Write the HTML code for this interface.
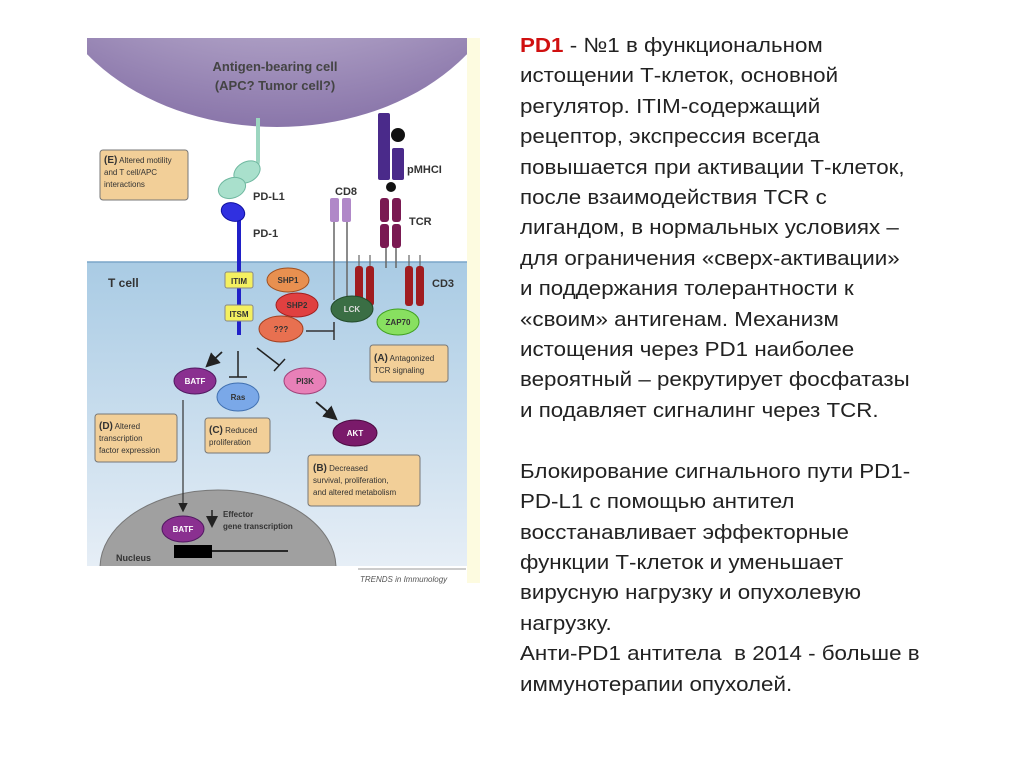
<!DOCTYPE html>
<html><head><meta charset="utf-8"><style>
body{margin:0;width:1024px;height:767px;background:#fff;overflow:hidden;position:relative;font-family:"Liberation Sans",sans-serif}
.t{position:absolute;left:520px;font-size:20.5px;color:#222;white-space:nowrap;line-height:30.4px;transform-origin:0 0;transform:scaleX(1.09)}
</style></head><body>
<svg width="1024" height="767" style="position:absolute;left:0;top:0" font-family="Liberation Sans, sans-serif">
<defs>
<linearGradient id="bl" x1="0" y1="0" x2="0" y2="1"><stop offset="0" stop-color="#a9cbe4"/><stop offset="1" stop-color="#e6eef6"/></linearGradient>
<radialGradient id="ap" cx="0.5" cy="0.2" r="0.8"><stop offset="0" stop-color="#f0ecf6"/><stop offset="1" stop-color="#8a76aa"/></radialGradient>
<marker id="ar" markerWidth="8" markerHeight="8" refX="6" refY="4" orient="auto"><path d="M0,0 L8,4 L0,8 z" fill="#222"/></marker>
</defs>
<rect x="467" y="38" width="13" height="545" fill="#fdfbe0"/>
<rect x="87" y="38" width="380" height="224" fill="#fff"/>
<clipPath id="c"><rect x="87" y="38" width="380" height="528"/></clipPath>
<g clip-path="url(#c)">
<ellipse cx="277" cy="-50" rx="235" ry="177" fill="url(#ap)"/>
<rect x="87" y="262" width="380" height="304" fill="url(#bl)"/>
<line x1="87" y1="262" x2="467" y2="262" stroke="#7aa6c8" stroke-width="1.5"/>
<ellipse cx="218" cy="568" rx="118" ry="78" fill="#a0a0a0" stroke="#777"/>
</g>
<text x="275" y="71" font-size="13" font-weight="bold" fill="#444" text-anchor="middle">Antigen-bearing cell</text>
<text x="275" y="90" font-size="13" font-weight="bold" fill="#444" text-anchor="middle">(APC? Tumor cell?)</text>
<path d="M258,118 L258,160 Q258,170 250,168" stroke="#9cd6c0" stroke-width="4" fill="none"/>
<ellipse cx="247" cy="172" rx="14" ry="10" fill="#a9e0cc" stroke="#6fb8a0" transform="rotate(-30 247 172)"/>
<ellipse cx="232" cy="188" rx="14" ry="10" fill="#a9e0cc" stroke="#6fb8a0" transform="rotate(-20 232 188)"/>
<line x1="239" y1="212" x2="239" y2="335" stroke="#2020c8" stroke-width="4"/>
<ellipse cx="233" cy="212" rx="12" ry="9" fill="#3030e0" stroke="#1010a0" transform="rotate(20 233 212)"/>
<text x="253" y="200" font-size="11" font-weight="bold" fill="#333">PD-L1</text>
<text x="253" y="237" font-size="11" font-weight="bold" fill="#333">PD-1</text>
<rect x="100" y="150" width="88" height="50" rx="3" fill="#f2cf98" stroke="#777"/>
<text x="104" y="163" font-size="8" fill="#333"><tspan font-weight="bold" font-size="10">(E)</tspan> Altered motility</text>
<text x="104" y="175" font-size="8" fill="#333">and T cell/APC</text>
<text x="104" y="187" font-size="8" fill="#333">interactions</text>
<line x1="334" y1="222" x2="334" y2="300" stroke="#666" stroke-width="1.5"/>
<line x1="347" y1="222" x2="347" y2="300" stroke="#666" stroke-width="1.5"/>
<rect x="330" y="198" width="9" height="24" rx="2" fill="#b088c8"/>
<rect x="342" y="198" width="9" height="24" rx="2" fill="#b088c8"/>
<text x="335" y="195" font-size="11" font-weight="bold" fill="#333">CD8</text>
<rect x="378" y="113" width="12" height="67" rx="2" fill="#4a2a8a"/>
<rect x="392" y="148" width="12" height="32" rx="2" fill="#4a2a8a"/>
<circle cx="398" cy="135" r="7" fill="#111"/>
<circle cx="391" cy="187" r="5" fill="#111"/>
<text x="407" y="173" font-size="11" font-weight="bold" fill="#333">pMHCI</text>
<line x1="386" y1="245" x2="386" y2="268" stroke="#666" stroke-width="1.5"/>
<line x1="396" y1="245" x2="396" y2="268" stroke="#666" stroke-width="1.5"/>
<rect x="380" y="198" width="9" height="24" rx="3" fill="#7a1a52"/>
<rect x="392" y="198" width="9" height="24" rx="3" fill="#7a1a52"/>
<rect x="380" y="224" width="9" height="24" rx="3" fill="#7a1a52"/>
<rect x="392" y="224" width="9" height="24" rx="3" fill="#7a1a52"/>
<text x="409" y="225" font-size="11" font-weight="bold" fill="#333">TCR</text>
<g stroke="#666" stroke-width="1.2"><line x1="359" y1="255" x2="359" y2="268"/><line x1="370" y1="255" x2="370" y2="268"/><line x1="409" y1="255" x2="409" y2="268"/><line x1="420" y1="255" x2="420" y2="268"/></g>
<g fill="#a01c20"><rect x="355" y="266" width="8" height="40" rx="3"/><rect x="366" y="266" width="8" height="40" rx="3"/><rect x="405" y="266" width="8" height="40" rx="3"/><rect x="416" y="266" width="8" height="40" rx="3"/></g>
<text x="432" y="287" font-size="11" font-weight="bold" fill="#333">CD3</text>
<text x="108" y="287" font-size="12" font-weight="bold" fill="#333">T cell</text>
<rect x="225" y="272" width="28" height="16" rx="2" fill="#f4f060" stroke="#888"/>
<text x="239" y="284" font-size="8" font-weight="bold" fill="#333" text-anchor="middle">ITIM</text>
<rect x="225" y="305" width="28" height="16" rx="2" fill="#f4f060" stroke="#888"/>
<text x="239" y="317" font-size="8" font-weight="bold" fill="#333" text-anchor="middle">ITSM</text>
<ellipse cx="288" cy="280" rx="21" ry="12" fill="#e89050" stroke="#a05020"/>
<text x="288" y="283" font-size="8" font-weight="bold" fill="#333" text-anchor="middle">SHP1</text>
<ellipse cx="297" cy="305" rx="21" ry="12" fill="#e04040" stroke="#a02020"/>
<text x="297" y="308" font-size="8" font-weight="bold" fill="#333" text-anchor="middle">SHP2</text>
<ellipse cx="281" cy="329" rx="22" ry="13" fill="#e87050" stroke="#a04020"/>
<text x="281" y="332" font-size="8" font-weight="bold" fill="#333" text-anchor="middle">???</text>
<line x1="306" y1="331" x2="334" y2="331" stroke="#333" stroke-width="1.5"/>
<line x1="334" y1="322" x2="334" y2="340" stroke="#333" stroke-width="1.5"/>
<ellipse cx="352" cy="309" rx="21" ry="13" fill="#3a6e44" stroke="#224a2a"/>
<text x="352" y="312" font-size="8" font-weight="bold" fill="#ddd" text-anchor="middle">LCK</text>
<ellipse cx="398" cy="322" rx="21" ry="13" fill="#88e060" stroke="#40a020"/>
<text x="398" y="325" font-size="8" font-weight="bold" fill="#333" text-anchor="middle">ZAP70</text>
<rect x="370" y="345" width="78" height="37" rx="3" fill="#f2cf98" stroke="#777"/>
<text x="374" y="361" font-size="8" fill="#333"><tspan font-weight="bold" font-size="10">(A)</tspan> Antagonized</text>
<text x="374" y="373" font-size="8" fill="#333">TCR signaling</text>
<line x1="222" y1="352" x2="208" y2="365" stroke="#222" stroke-width="1.8" marker-end="url(#ar)"/>
<line x1="238" y1="351" x2="238" y2="377" stroke="#222" stroke-width="1.5"/>
<line x1="229" y1="377" x2="247" y2="377" stroke="#222" stroke-width="1.5"/>
<line x1="257" y1="348" x2="279" y2="365" stroke="#222" stroke-width="1.5"/>
<line x1="274" y1="371" x2="285" y2="359" stroke="#222" stroke-width="1.5"/>
<ellipse cx="195" cy="381" rx="21" ry="13" fill="#8a3090" stroke="#501860"/>
<text x="195" y="384" font-size="8" font-weight="bold" fill="#fff" text-anchor="middle">BATF</text>
<ellipse cx="238" cy="397" rx="21" ry="14" fill="#7aa8e8" stroke="#4070b0"/>
<text x="238" y="400" font-size="8" font-weight="bold" fill="#333" text-anchor="middle">Ras</text>
<ellipse cx="305" cy="381" rx="21" ry="13" fill="#e880b8" stroke="#a04078"/>
<text x="305" y="384" font-size="8" font-weight="bold" fill="#333" text-anchor="middle">PI3K</text>
<line x1="316" y1="402" x2="335" y2="418" stroke="#222" stroke-width="1.8" marker-end="url(#ar)"/>
<ellipse cx="355" cy="433" rx="22" ry="13" fill="#7a1a6a" stroke="#4a0a40"/>
<text x="355" y="436" font-size="8" font-weight="bold" fill="#fff" text-anchor="middle">AKT</text>
<rect x="95" y="414" width="82" height="48" rx="3" fill="#f2cf98" stroke="#777"/>
<text x="99" y="429" font-size="8" fill="#333"><tspan font-weight="bold" font-size="10">(D)</tspan> Altered</text>
<text x="99" y="441" font-size="8" fill="#333">transcription</text>
<text x="99" y="453" font-size="8" fill="#333">factor expression</text>
<rect x="205" y="418" width="65" height="35" rx="3" fill="#f2cf98" stroke="#777"/>
<text x="209" y="433" font-size="8" fill="#333"><tspan font-weight="bold" font-size="10">(C)</tspan> Reduced</text>
<text x="209" y="445" font-size="8" fill="#333">proliferation</text>
<rect x="308" y="455" width="112" height="51" rx="3" fill="#f2cf98" stroke="#777"/>
<text x="313" y="471" font-size="8" fill="#333"><tspan font-weight="bold" font-size="10">(B)</tspan> Decreased</text>
<text x="313" y="483" font-size="8" fill="#333">survival, proliferation,</text>
<text x="313" y="495" font-size="8" fill="#333">and altered metabolism</text>
<line x1="183" y1="400" x2="183" y2="510" stroke="#333" stroke-width="1.2" marker-end="url(#ar)"/>
<ellipse cx="183" cy="529" rx="21" ry="13" fill="#8a3090" stroke="#501860"/>
<text x="183" y="532" font-size="8" font-weight="bold" fill="#fff" text-anchor="middle">BATF</text>
<line x1="212" y1="510" x2="212" y2="525" stroke="#222" stroke-width="1.5" marker-end="url(#ar)"/>
<text x="223" y="517" font-size="8" font-weight="bold" fill="#333">Effector</text>
<text x="223" y="529" font-size="8" font-weight="bold" fill="#333">gene transcription</text>
<rect x="174" y="545" width="38" height="13" fill="#000"/>
<line x1="212" y1="551" x2="288" y2="551" stroke="#000" stroke-width="1.5"/>
<text x="116" y="561" font-size="9" font-weight="bold" fill="#333">Nucleus</text>
<line x1="358" y1="569" x2="466" y2="569" stroke="#999"/>
<text x="360" y="582" font-size="8" font-style="italic" fill="#555">TRENDS in Immunology</text>
</svg>
<div class="t" style="top:31px"><span style="color:#d01010;font-weight:bold">PD1</span> - №1 в функциональном<br>истощении Т-клеток, основной<br>регулятор. ITIM-содержащий<br>рецептор, экспрессия всегда<br>повышается при активации Т-клеток,<br>после взаимодействия TCR с<br>лигандом, в нормальных условиях –<br>для ограничения «сверх-активации»<br>и поддержания толерантности к<br>«своим» антигенам. Механизм<br>истощения через PD1 наиболее<br>вероятный – рекрутирует фосфатазы<br>и подавляет сигналинг через TCR.<br><br>Блокирование сигнального пути PD1-<br>PD-L1 с помощью антител<br>восстанавливает эффекторные<br>функции Т-клеток и уменьшает<br>вирусную нагрузку и опухолевую<br>нагрузку.<br>Анти-PD1 антитела &nbsp;в 2014 - больше в<br>иммунотерапии опухолей.</div>
</body></html>
